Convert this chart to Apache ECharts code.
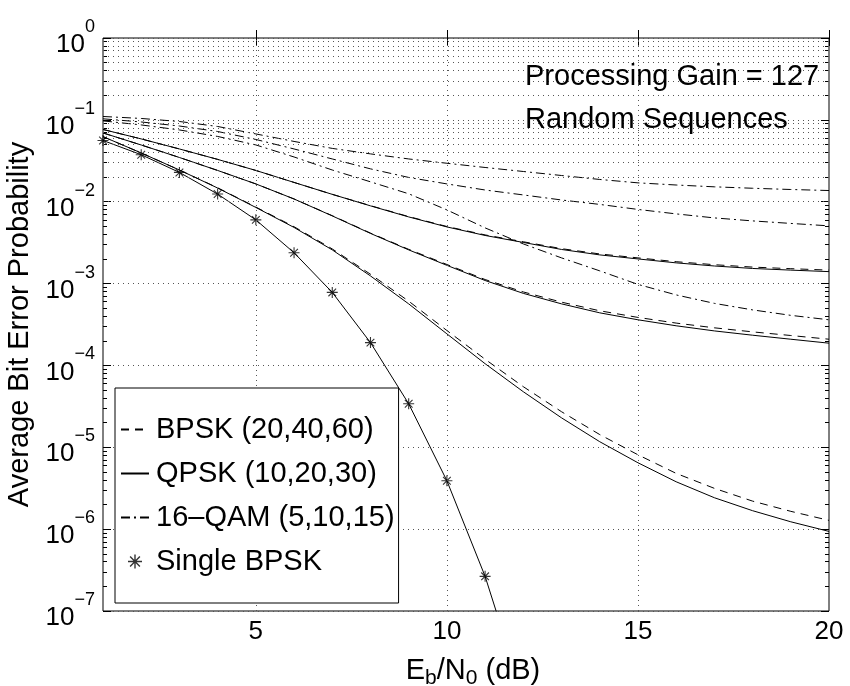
<!DOCTYPE html>
<html><head><meta charset="utf-8">
<script src="https://cdn.jsdelivr.net/npm/echarts@6/dist/echarts.min.js"></script>
<style>html,body{margin:0;padding:0;background:#fff}#c{width:850px;height:686px}</style>
</head><body><div id="c"></div>
<script>
// ---------------- data ----------------
const ebn0 = [1,2,3,4,5,6,7,8,9,10,11,12,13,14,15,16,17,18,19,20];
const singleX = [1,2,3,4,5,6,7,8,9,10,11,12];
const singleBpsk = [5.6e-2,3.75e-2,2.28e-2,1.24e-2,6.0e-3,2.38e-3,7.8e-4,1.9e-4,3.4e-5,3.9e-6,2.65e-7,9.0e-9];
const markerX = [1,2,3,4,5,6,7,8,9,10,11];
const markerY = [5.6e-2,3.75e-2,2.28e-2,1.24e-2,6.0e-3,2.38e-3,7.8e-4,1.9e-4,3.4e-5,3.9e-6,2.65e-7];

const qpsk10 = [6.24e-2,3.94e-2,2.44e-2,1.47e-2,8.51e-3,4.85e-3,2.58e-3,1.24e-3,5.65e-4,2.43e-4,1.05e-4,4.77e-5,2.29e-5,1.17e-5,6.47e-6,3.79e-6,2.42e-6,1.68e-6,1.23e-6,9.38e-7];
const qpsk20 = [6.92e-2,4.93e-2,3.47e-2,2.41e-2,1.65e-2,1.08e-2,6.71e-3,4.10e-3,2.58e-3,1.67e-3,1.09e-3,7.59e-4,5.65e-4,4.39e-4,3.61e-4,3.05e-4,2.64e-4,2.34e-4,2.09e-4,1.87e-4];
const qpsk30 = [7.63e-2,5.85e-2,4.41e-2,3.29e-2,2.41e-2,1.72e-2,1.23e-2,8.9e-3,6.52e-3,4.92e-3,3.87e-3,3.18e-3,2.61e-3,2.24e-3,2.0e-3,1.79e-3,1.64e-3,1.53e-3,1.46e-3,1.40e-3];

const bpsk20 = [6.24e-2,3.94e-2,2.44e-2,1.48e-2,8.6e-3,4.95e-3,2.65e-3,1.30e-3,6.1e-4,2.67e-4,1.19e-4,5.5e-5,2.72e-5,1.43e-5,8.1e-6,4.8e-6,3.15e-6,2.2e-6,1.65e-6,1.28e-6];
const bpsk40 = [6.92e-2,4.93e-2,3.47e-2,2.41e-2,1.65e-2,1.08e-2,6.75e-3,4.14e-3,2.62e-3,1.71e-3,1.12e-3,7.9e-4,5.93e-4,4.65e-4,3.86e-4,3.29e-4,2.88e-4,2.57e-4,2.32e-4,2.09e-4];
const bpsk60 = [7.63e-2,5.85e-2,4.41e-2,3.29e-2,2.41e-2,1.72e-2,1.23e-2,8.95e-3,6.58e-3,4.98e-3,3.93e-3,3.24e-3,2.67e-3,2.30e-3,2.06e-3,1.85e-3,1.70e-3,1.59e-3,1.52e-3,1.46e-3];

const qam5  = [9.71e-2,8.67e-2,7.53e-2,6.27e-2,4.94e-2,3.52e-2,2.44e-2,1.75e-2,1.25e-2,7.94e-3,4.79e-3,3.05e-3,2.06e-3,1.43e-3,9.77e-4,7.27e-4,5.73e-4,4.77e-4,4.09e-4,3.61e-4];
const qam10 = [1.03e-1,9.42e-2,8.41e-2,7.21e-2,5.76e-2,4.41e-2,3.33e-2,2.52e-2,1.98e-2,1.65e-2,1.39e-2,1.21e-2,1.05e-2,9.27e-3,8.05e-3,7.10e-3,6.34e-3,5.83e-3,5.43e-3,5.07e-3];
const qam15 = [1.10e-1,1.04e-1,9.55e-2,8.30e-2,6.73e-2,5.45e-2,4.48e-2,3.84e-2,3.33e-2,2.95e-2,2.62e-2,2.34e-2,2.09e-2,1.87e-2,1.70e-2,1.60e-2,1.52e-2,1.46e-2,1.41e-2,1.37e-2];

const xTickValues = [5,10,15,20];
const xGridValues = [5,10,15];
const yDecadeExps = [-7,-6,-5,-4,-3,-2,-1,0];

const legendNames = ['BPSK (20,40,60)','QPSK (10,20,30)','16\u2013QAM (5,10,15)','Single BPSK'];
const note1 = 'Processing Gain = 127';
const note2 = 'Random Sequences';
// --------------------------------------

const FONT = '"Liberation Sans", Arial, Helvetica, sans-serif';
const zip = (xs, ys) => xs.map((x, i) => [x, ys[i]]);
const DASH = [8, 6];
const DASHDOT = [9, 4, 2, 4];
const ASTERISK = 'path://M9,0L11,0L11,20L9,20Z M0,9L20,9L20,11L0,11Z M2.3,3.7L3.7,2.3L17.7,16.3L16.3,17.7Z M16.3,2.3L17.7,3.7L3.7,17.7L2.3,16.3Z';

// minor tick / grid positions
const minorLog = [];
const minorVals = [];
for (let k = -7; k < 0; k++) for (let m = 2; m <= 9; m++) { minorLog.push(k + Math.log10(m)); minorVals.push(m * Math.pow(10, k)); }

function curve(name, ys, type) {
  return {
    name, type: 'line', data: zip(ebn0, ys), xAxisIndex: 0, yAxisIndex: 0,
    symbol: 'none', showSymbol: false, z: 3, silent: true, animation: false,
    lineStyle: { color: '#000', width: 1, type: type }, itemStyle: { color: '#000' }
  };
}

const gridLine = { color: '#555', width: 1, type: [1, 4] };
const series = [
  {
    name: 'grid', type: 'line', data: [], xAxisIndex: 0, yAxisIndex: 0, z: 1, silent: true,
    markLine: {
      silent: true, symbol: ['none', 'none'], label: { show: false }, animation: false,
      lineStyle: gridLine,
      data: [
        ...minorVals.map(v => ({ yAxis: v })),
        ...xGridValues.map(v => ({ xAxis: v }))
      ]
    }
  },
  curve(legendNames[0], bpsk20, DASH),
  curve(legendNames[0], bpsk40, DASH),
  curve(legendNames[0], bpsk60, DASH),
  curve(legendNames[1], qpsk10, 'solid'),
  curve(legendNames[1], qpsk20, 'solid'),
  curve(legendNames[1], qpsk30, 'solid'),
  curve(legendNames[2], qam5, DASHDOT),
  curve(legendNames[2], qam10, DASHDOT),
  curve(legendNames[2], qam15, DASHDOT),
  {
    name: 'singleLine', type: 'line', data: zip(singleX, singleBpsk), xAxisIndex: 0, yAxisIndex: 0,
    symbol: 'none', showSymbol: false, z: 3, silent: true, animation: false,
    lineStyle: { color: '#000', width: 1 }
  },
  {
    name: legendNames[3], type: 'scatter', data: zip(markerX, markerY), xAxisIndex: 0, yAxisIndex: 0,
    symbol: ASTERISK, symbolSize: 11, z: 4, silent: true, animation: false,
    itemStyle: { color: '#000' }
  }
];

const yLabelRich = {
  b: { fontSize: 26, fontFamily: FONT, color: '#000', padding: [14, 0, 0, 0] },
  s: { fontSize: 18, fontFamily: FONT, color: '#000', verticalAlign: 'top' }
};
const tickStyle = { color: '#000', width: 1 };
const hiddenSymbol = { opacity: 0, color: 'rgba(0,0,0,0)', borderWidth: 0 };

const option = {
  animation: false,
  backgroundColor: '#fff',
  grid: { left: 103, top: 38, width: 726, height: 573, show: true, borderColor: '#000', borderWidth: 1,
          backgroundColor: 'transparent', containLabel: false, outerBoundsMode: 'none' },
  xAxis: [
    {
      type: 'value', min: 1, max: 20, position: 'bottom',
      axisLine: { show: false },
      axisTick: { show: true, inside: true, length: 8, customValues: xTickValues, lineStyle: tickStyle },
      axisLabel: { show: true, customValues: xTickValues, margin: 8, fontSize: 26, fontFamily: FONT, color: '#000' },
      splitLine: { show: false },
      name: '{m|E}{sub|b}{m|/N}{sub|0}{m| (dB)}', nameLocation: 'middle', nameGap: 45,
      nameTextStyle: {
        padding: [0, 0, 0, 14],
        rich: {
          m: { fontSize: 29, fontFamily: FONT, color: '#000', padding: [0, 0, 4, 0] },
          sub: { fontSize: 21, fontFamily: FONT, color: '#000', verticalAlign: 'bottom' }
        }
      }
    },
    {
      type: 'value', min: 1, max: 20, position: 'top',
      axisLine: { show: false },
      axisTick: { show: true, inside: true, length: 8, customValues: xTickValues, lineStyle: tickStyle },
      axisLabel: { show: false }, splitLine: { show: false }
    }
  ],
  yAxis: [
    { type: 'log', logBase: 10, min: 1e-7, max: 1, show: false },
    {
      type: 'value', min: -7, max: 0, interval: 1, position: 'left',
      axisLine: { show: false },
      axisTick: { show: true, inside: true, length: 8, lineStyle: tickStyle },
      axisLabel: {
        show: true, margin: 8,
        formatter: v => '{b|10}{s|' + (v === 0 ? '0' : '\u2212' + (-v)) + '}',
        rich: yLabelRich
      },
      splitLine: { show: true, lineStyle: gridLine },
      name: 'Average Bit Error Probability', nameLocation: 'middle', nameGap: 66, nameRotate: 90,
      nameTextStyle: { fontSize: 29, fontFamily: FONT, color: '#000' }
    },
    {
      type: 'value', min: -7, max: 0, position: 'left',
      axisLine: { show: false },
      axisTick: { show: true, inside: true, length: 4, customValues: minorLog, lineStyle: tickStyle },
      axisLabel: { show: false }, splitLine: { show: false }
    },
    {
      type: 'value', min: -7, max: 0, interval: 1, position: 'right',
      axisLine: { show: false },
      axisTick: { show: true, inside: true, length: 8, lineStyle: tickStyle },
      axisLabel: { show: false }, splitLine: { show: false }
    },
    {
      type: 'value', min: -7, max: 0, position: 'right',
      axisLine: { show: false },
      axisTick: { show: true, inside: true, length: 4, customValues: minorLog, lineStyle: tickStyle },
      axisLabel: { show: false }, splitLine: { show: false }
    }
  ],
  legend: {
    show: true, orient: 'vertical', left: 115, top: 388,
    padding: [27, 4, 27, 5], itemWidth: 28, itemHeight: 14, itemGap: 15,
    backgroundColor: '#fff', borderColor: '#000', borderWidth: 1, borderRadius: 0,
    textStyle: { fontSize: 29, color: '#000', fontFamily: FONT, lineHeight: 28, padding: [0, 0, 0, 2] },
    selectedMode: false,
    data: legendNames.map(n => n === 'Single BPSK'
      ? { name: n, icon: ASTERISK, itemStyle: { color: '#000' } }
      : { name: n, itemStyle: hiddenSymbol }),
    z: 10
  },
  graphic: [
    { type: 'text', x: 525, y: 77, z: 10,
      style: { text: note1, font: '29px ' + FONT, fill: '#000', verticalAlign: 'middle', textVerticalAlign: 'middle' } },
    { type: 'text', x: 525, y: 120, z: 10,
      style: { text: note2, font: '29px ' + FONT, fill: '#000', verticalAlign: 'middle', textVerticalAlign: 'middle' } }
  ],
  series
};

const chart = echarts.init(document.getElementById('c'), null, { renderer: 'canvas' });
chart.setOption(option);
</script>
</body></html>
